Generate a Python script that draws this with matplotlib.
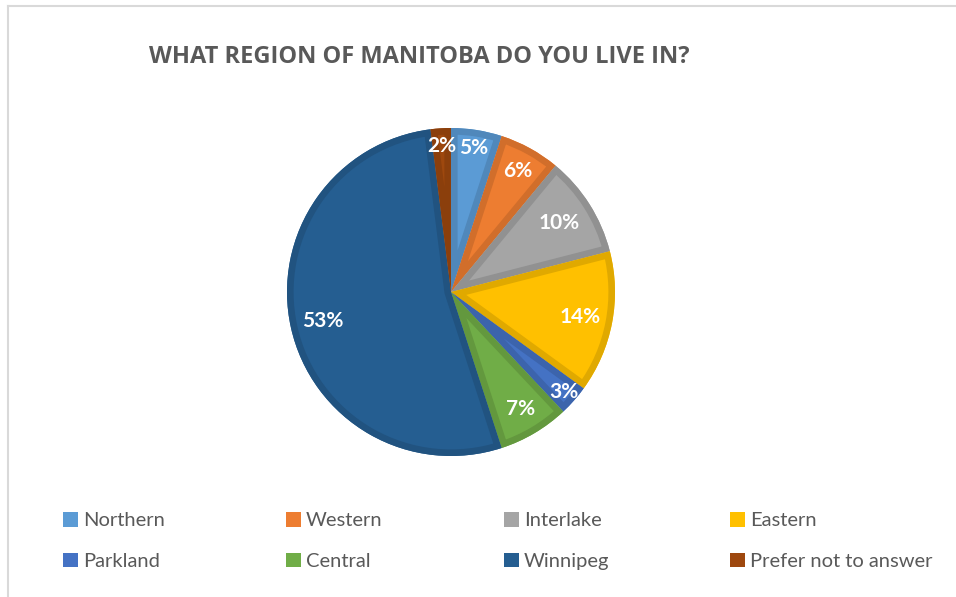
import matplotlib
matplotlib.use("Agg")
import matplotlib.pyplot as plt
from matplotlib.patches import Wedge, Rectangle
from matplotlib.lines import Line2D
import matplotlib.colors as mcolors
import numpy as np

categories = ["Northern", "Western", "Interlake", "Eastern",
              "Parkland", "Central", "Winnipeg", "Prefer not to answer"]
values = [5, 6, 10, 14, 3, 7, 53, 2]
colors = ["#5B9BD5", "#ED7D31", "#A5A5A5", "#FFC000",
          "#4472C4", "#70AD47", "#255E91", "#9E480E"]
label_dist = [0.89, 0.84, 0.78, 0.80, 0.92, 0.83, 0.80, 0.89]

W, H = 956, 597
fig = plt.figure(figsize=(W/100, H/100), dpi=100)

# chart frame (top and left lines visible)
fig.add_artist(Line2D([8/W, 8/W], [0, 1 - 6/H], transform=fig.transFigure,
                      color="#D9D9D9", lw=1.5))
fig.add_artist(Line2D([8/W, 1], [1 - 6/H, 1 - 6/H], transform=fig.transFigure,
                      color="#D9D9D9", lw=1.5))

cx, cy, r = 451, 292, 164
ax = fig.add_axes([(cx - r)/W, (H - cy - r)/H, 2*r/W, 2*r/H])
wedges, _ = ax.pie(values, colors=colors, startangle=90, counterclock=False,
                   radius=1, wedgeprops=dict(linewidth=0))
ax.set_xlim(-1, 1)
ax.set_ylim(-1, 1)
ax.set_aspect("equal")
ax.axis("off")

def darker(c, f=0.88):
    rgb = np.array(mcolors.to_rgb(c))
    return tuple(rgb * f)

for w, c, v, d in zip(wedges, colors, values, label_dist):
    outline = Wedge(w.center, w.r, w.theta1, w.theta2, facecolor="none",
                    edgecolor=darker(c), linewidth=9.5)
    ax.add_patch(outline)
    outline.set_clip_path(w)
    ang = np.deg2rad((w.theta1 + w.theta2) / 2)
    ax.text(d*np.cos(ang), d*np.sin(ang), f"{v}%", ha="center", va="center",
            color="white", fontsize=15, fontweight="bold", family="Lato")

fig.text(419/W, 1 - 57/H, "WHAT REGION OF MANITOBA DO YOU LIVE IN?",
         ha="center", va="center", fontsize=17, fontweight="bold",
         family="Open Sans", color="#595959")

handles = [Rectangle((0, 0), 1, 1, facecolor=c, edgecolor="none") for c in colors]
order = [0, 4, 1, 5, 2, 6, 3, 7]
leg = fig.legend([handles[i] for i in order], [categories[i] for i in order],
                 ncol=4, loc="center left", bbox_to_anchor=(45/W, 1 - 541/H),
                 frameon=False, prop=dict(family="Lato", size=14.5),
                 handlelength=0.75, handleheight=0.75, handletextpad=0.25,
                 columnspacing=6.0, labelspacing=1.15, labelcolor="#595959")

fig.savefig("out.png", dpi=100, facecolor="white")
